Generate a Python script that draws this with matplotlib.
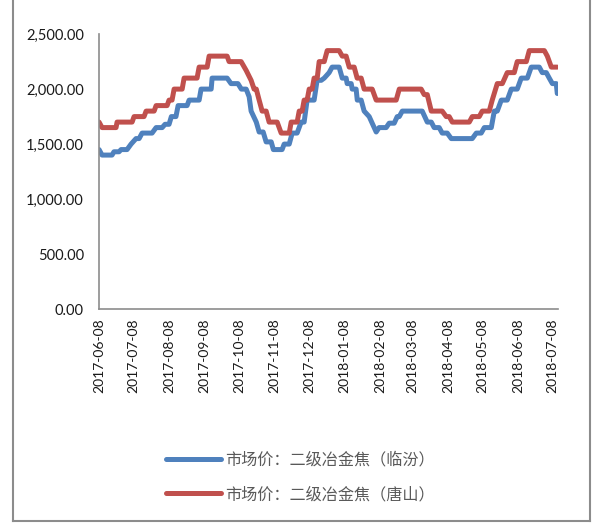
import numpy as np
import matplotlib
matplotlib.use("Agg")
import matplotlib.pyplot as plt
import matplotlib.dates as mdates
from matplotlib.lines import Line2D

plt.rcParams['font.family'] = ['Lato', 'Noto Sans CJK SC', 'DejaVu Sans']

# step series: days after 2017-06-08, price
start = np.datetime64('2017-06-08')

linfen_day = [0, 2.6, 11.3, 13, 17.4, 19.2, 24.4, 27.9, 32.2, 34.9, 37.5, 46.2,
              49.7, 55, 57.5, 61, 63, 67, 68.9, 76.7, 78.5, 87.2, 88.9, 97.7,
              98.5, 111.6, 115, 121, 124, 128.2, 130.8, 132.5, 137, 139.5, 143,
              145.6, 150, 151.9, 159.5, 161.3, 165.7, 168.3, 172.6, 176.1, 178.7,
              181.3, 187.4, 190, 193.6, 196.2, 200.5, 203.1, 209.2, 211.9, 215.3,
              216.2, 219.7, 220.6, 224, 225, 228.4, 231, 235.4, 238, 241.5, 244,
              250.2, 252.8, 257.2, 259.8, 261.6, 264.2, 281.6, 286, 289.5, 292,
              296.4, 299, 303.4, 306.9, 325.2, 328.7, 333, 335.7, 341.8, 344.4,
              347, 350.5, 355.7, 359.2, 364.4, 367.9, 373.2, 376.6, 383.6, 386.2,
              389.7, 392.3, 395, 398.4, 399.3]
linfen_val = [1450, 1400, 1400, 1430, 1430, 1450, 1450, 1500, 1550, 1550, 1600, 1600,
              1650, 1650, 1680, 1680, 1750, 1750, 1850, 1850, 1900, 1900, 2000, 2000,
              2100, 2100, 2050, 2050, 2000, 2000, 1930, 1800, 1700, 1610, 1610,
              1520, 1520, 1450, 1450, 1500, 1500, 1600, 1600, 1700, 1700,
              1900, 1900, 2080, 2080, 2100, 2150, 2200, 2200, 2100, 2100,
              2050, 2050, 2000, 2000, 1900, 1900, 1800, 1750, 1690, 1610, 1650,
              1650, 1690, 1690, 1750, 1750, 1800, 1800, 1700, 1700, 1650,
              1650, 1600, 1600, 1550, 1550, 1600, 1600, 1650, 1650, 1800,
              1800, 1900, 1900, 2000, 2000, 2100, 2100, 2200, 2200, 2150,
              2150, 2100, 2050, 2050, 1960]

tangshan_day = [0, 2.6, 14.8, 15.7, 28.8, 30.5, 39.2, 41, 48, 49.7, 59.3, 61, 63.6,
                65.4, 72.4, 74.1, 85.4, 87.2, 94.2, 95.9, 111.6, 113.3, 123.8, 128.2,
                132.5, 135.1, 137, 139.5, 142.1, 145.6, 148.2, 155.2, 158.7, 165.7,
                167.4, 172.6, 174.4, 177, 178.7, 181.3, 183.1, 185.7, 187.4, 190.1,
                191.8, 196.2, 198.8, 209.2, 211.9, 215.3, 218, 222.3, 224.9, 228.4,
                231, 238, 241.5, 258.9, 261.6, 280.7, 283.3, 286, 289.5, 299, 302.5,
                305.1, 307.8, 322.6, 325.2, 331.3, 333.9, 340, 342.6, 347, 351.4,
                355.7, 361.8, 364.4, 372.3, 374.9, 388, 390.6, 394.1, 399.3]
tangshan_val = [1700, 1650, 1650, 1700, 1700, 1750, 1750, 1800, 1800, 1850, 1850, 1900, 1900,
                2000, 2000, 2100, 2100, 2200, 2200, 2300, 2300, 2250, 2250, 2170,
                2080, 2000, 2000, 1900, 1800, 1800, 1700, 1700, 1600, 1600,
                1700, 1700, 1800, 1800, 1900, 1900, 2000, 2000, 2100, 2100,
                2250, 2250, 2350, 2350, 2300, 2300, 2200, 2200, 2100, 2100,
                2000, 2000, 1900, 1900, 2000, 2000, 1950, 1950, 1800, 1800, 1750,
                1750, 1700, 1700, 1750, 1750, 1800, 1800, 1900, 2050, 2050,
                2150, 2150, 2250, 2250, 2350, 2350, 2300, 2200, 2200]

tick_dates = ['2017-06-08', '2017-07-08', '2017-08-08', '2017-09-08', '2017-10-08',
              '2017-11-08', '2017-12-08', '2018-01-08', '2018-02-08', '2018-03-08',
              '2018-04-08', '2018-05-08', '2018-06-08', '2018-07-08']
labels = ['市场价：二级冶金焦（临汾）', '市场价：二级冶金焦（唐山）']


def to_dates(days):
    minutes = np.round(np.array(days) * 24 * 60).astype('int64')
    return start + minutes.astype('timedelta64[m]')


fig = plt.figure(figsize=(6.04, 5.25), dpi=100)
ax = fig.add_axes([0.164, 0.4114, 0.76, 0.5236])

ax.plot(to_dates(linfen_day), linfen_val, color='#4F81BD', lw=3.6,
        solid_capstyle='round', solid_joinstyle='round', label=labels[0])
ax.plot(to_dates(tangshan_day), tangshan_val, color='#C0504D', lw=3.6,
        solid_capstyle='round', solid_joinstyle='round', label=labels[1])

ax.set_ylim(0, 2500)
ax.set_yticks(np.arange(0, 2501, 500))
ax.yaxis.set_major_formatter(plt.FuncFormatter(lambda v, p: f'{v:,.2f}'))
ax.set_xlim(start, start + np.timedelta64(400, 'D'))
ax.set_xticks(np.array(tick_dates, dtype='datetime64[D]'))
ax.xaxis.set_major_formatter(mdates.DateFormatter('%Y-%m-%d'))
ax.tick_params(axis='x', rotation=90, length=0, labelsize=10, pad=7, colors='#1a1a1a')
ax.tick_params(axis='y', length=0, labelsize=10.5, pad=11, colors='#1a1a1a')

for s in ['top', 'right']:
    ax.spines[s].set_visible(False)
for s in ['left', 'bottom']:
    ax.spines[s].set_color('#8c8c8c')
    ax.spines[s].set_linewidth(1.2)

leg = fig.legend(loc='center', bbox_to_anchor=(0.497, 0.091), frameon=False,
                 handlelength=3.4, labelspacing=1.1, handletextpad=0.25,
                 prop={'family': ['Noto Sans CJK SC', 'DejaVu Sans'], 'size': 11.6})
for t in leg.get_texts():
    t.set_color('#595959')

# outer chart frame
frame = dict(color='#8c8c8c', lw=1.5, transform=fig.transFigure)
fig.add_artist(Line2D([0.022, 0.022], [0.008, 1.0], **frame))
fig.add_artist(Line2D([0.977, 0.977], [0.008, 1.0], **frame))
fig.add_artist(Line2D([0.022, 0.977], [0.008, 0.008], **frame))

fig.savefig('out.png', dpi=100)
